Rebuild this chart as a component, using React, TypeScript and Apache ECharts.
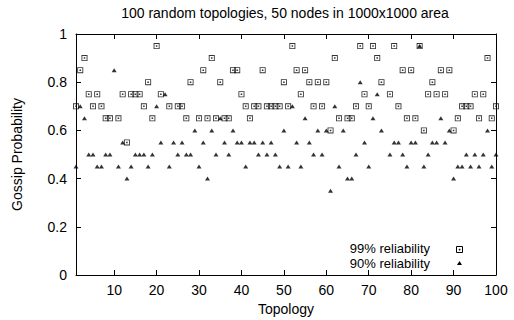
import React, { useEffect, useRef } from "react";
import * as echarts from "echarts";

const titleText = "100 random topologies, 50 nodes in 1000x1000 area";
const xName = "Topology";
const yName = "Gossip Probability";
const seriesNames = ["99% reliability", "90% reliability"];
const xTicks = [10, 20, 30, 40, 50, 60, 70, 80, 90, 100];

// Topology 1..100 (null = no point)
const rel99: (number | null)[] = [
  0.7, 0.85, 0.9, 0.75, 0.7, 0.75, 0.7, 0.65, 0.65, null,
  0.65, 0.75, 0.55, 0.75, 0.75, 0.75, 0.7, 0.8, 0.65, 0.95,
  0.75, null, 0.7, null, 0.7, 0.7, 0.65, 0.8, null, 0.65,
  0.85, 0.65, 0.9, 0.65, 0.8, 0.65, 0.65, 0.85, 0.85, 0.75,
  0.7, 0.65, 0.7, 0.7, 0.85, 0.7, 0.7, 0.7, 0.7, 0.8,
  0.7, 0.95, 0.85, 0.75, 0.85, 0.8, 0.7, 0.8, 0.7, 0.8,
  0.6, 0.9, 0.65, null, 0.65, 0.65, 0.7, 0.95, 0.75, 0.7,
  0.95, 0.9, 0.8, null, 0.75, 0.95, 0.7, 0.85, 0.65, 0.85,
  0.65, 0.95, 0.6, 0.75, 0.8, 0.75, 0.85, 0.75, 0.85, 0.6,
  0.65, 0.7, 0.7, 0.7, 0.75, 0.65, 0.75, 0.9, 0.65, 0.7,
];

const rel90: (number | null)[] = [
  0.45, 0.7, 0.65, 0.5, 0.5, 0.45, 0.45, 0.5, 0.5, 0.85,
  0.45, 0.55, 0.4, 0.45, 0.5, 0.5, 0.5, 0.45, 0.5, 0.7,
  0.55, 0.75, 0.45, 0.55, 0.5, 0.55, 0.5, 0.5, 0.6, 0.45,
  0.55, 0.4, 0.6, 0.5, 0.65, 0.55, 0.5, 0.6, 0.55, 0.55,
  0.45, 0.55, 0.55, 0.5, 0.55, 0.5, 0.55, 0.5, 0.45, 0.6,
  0.45, 0.7, 0.55, 0.45, 0.65, 0.55, 0.5, 0.6, 0.5, 0.6,
  0.35, 0.7, 0.45, 0.6, 0.4, 0.4, 0.5, 0.8, 0.55, 0.45,
  0.65, 0.75, 0.6, null, 0.5, 0.55, 0.55, 0.5, 0.45, 0.55,
  0.55, 0.95, 0.45, 0.5, 0.55, 0.55, 0.65, 0.55, 0.6, 0.4,
  0.45, 0.45, 0.5, 0.45, 0.5, 0.45, 0.5, 0.6, 0.45, 0.5,
];

const FONT = '"Liberation Sans", Arial, sans-serif';
const SQUARE = "path://M0,0H7V7H0ZM1,1V6H6V1ZM2.6,2.6H4.4V4.4H2.6Z";

const toPoints = (arr: (number | null)[]) =>
  arr
    .map((v, k) => (v === null ? null : [k + 1, v]))
    .filter((p) => p !== null) as number[][];

export default function App() {
  const ref = useRef<HTMLDivElement>(null);
  useEffect(() => {
    if (!ref.current) return;
    const chart = echarts.init(ref.current, null, { renderer: "svg" });
    const axisCommon = {
      axisLine: { show: true, onZero: false, lineStyle: { color: "#000", width: 1 } },
      splitLine: { show: false },
    };
    const labelStyle = { color: "#000", fontSize: 14, fontFamily: FONT };
    const legendText = { fontSize: 13, fontFamily: FONT, fill: "#000", align: "right", verticalAlign: "middle", lineHeight: 13 };
    chart.setOption({
      animation: false,
      backgroundColor: "#fff",
      title: {
        text: titleText,
        left: 285,
        top: 6,
        padding: 0,
        textAlign: "center",
        textStyle: { fontSize: 14, fontWeight: "normal", fontFamily: FONT, color: "#000" },
      },
      grid: { left: 76, right: 18, top: 34, bottom: 45, containLabel: false, outerBoundsMode: "none" },
      xAxis: [
        {
          type: "value",
          position: "bottom",
          min: 1,
          max: 100,
          ...axisCommon,
          axisTick: { show: true, inside: true, length: 5, customValues: xTicks, lineStyle: { color: "#000" } },
          axisLabel: { show: true, customValues: xTicks, margin: 8, ...labelStyle },
          name: xName,
          nameLocation: "middle",
          nameGap: 26,
          nameTextStyle: labelStyle,
        },
        {
          type: "value",
          position: "top",
          min: 1,
          max: 100,
          ...axisCommon,
          axisTick: { show: true, inside: true, length: 5, customValues: xTicks, lineStyle: { color: "#000" } },
          axisLabel: { show: false },
        },
      ],
      yAxis: [
        {
          type: "value",
          position: "left",
          min: 0,
          max: 1,
          interval: 0.2,
          ...axisCommon,
          axisTick: { show: true, inside: true, length: 5, lineStyle: { color: "#000" } },
          axisLabel: { show: true, margin: 9, ...labelStyle },
          name: yName,
          nameLocation: "middle",
          nameGap: 52,
          nameTextStyle: labelStyle,
        },
        {
          type: "value",
          position: "right",
          min: 0,
          max: 1,
          interval: 0.2,
          ...axisCommon,
          axisTick: { show: true, inside: true, length: 5, lineStyle: { color: "#000" } },
          axisLabel: { show: false },
        },
      ],
      series: [
        {
          name: seriesNames[0],
          type: "scatter",
          xAxisIndex: 0,
          yAxisIndex: 0,
          clip: false,
          symbol: SQUARE,
          symbolSize: 6,
          itemStyle: { color: "#000" },
          data: toPoints(rel99),
        },
        {
          name: seriesNames[1],
          type: "scatter",
          xAxisIndex: 0,
          yAxisIndex: 0,
          clip: false,
          symbol: "triangle",
          symbolSize: [5, 4],
          itemStyle: { color: "#000" },
          data: toPoints(rel90),
        },
      ],
      graphic: [
        {
          type: "text",
          x: 430,
          y: 248,
          style: { text: seriesNames[0], ...legendText },
        },
        {
          type: "text",
          x: 430,
          y: 263,
          style: { text: seriesNames[1], ...legendText },
        },
        {
          type: "rect",
          shape: { x: 456.5, y: 246.5, width: 6, height: 6 },
          style: { fill: "none", stroke: "#000", lineWidth: 1 },
        },
        {
          type: "rect",
          shape: { x: 458.8, y: 248.8, width: 1.6, height: 1.6 },
          style: { fill: "#000" },
        },
        {
          type: "polygon",
          shape: { points: [[457, 265], [462, 265], [459.5, 261]] },
          style: { fill: "#000" },
        },
      ],
    });
    return () => chart.dispose();
  }, []);
  return (
    <div
      ref={ref}
      style={{ position: "fixed", left: 0, top: 0, width: 514, height: 320, background: "#fff" }}
    />
  );
}
